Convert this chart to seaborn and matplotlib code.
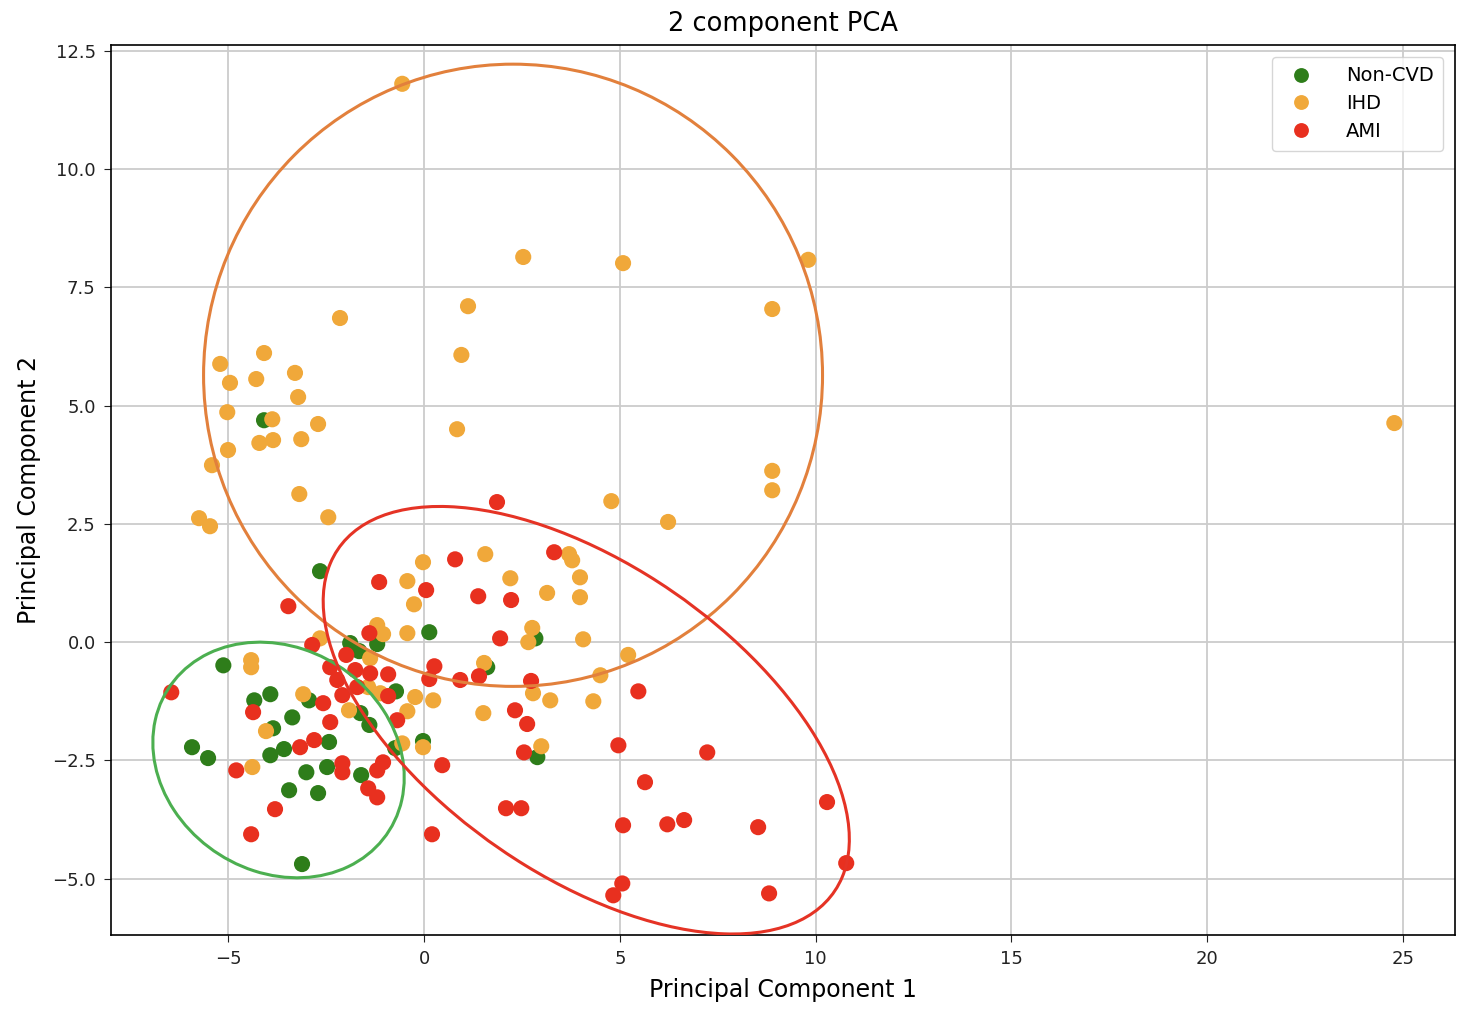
import pandas as pd
import matplotlib
matplotlib.use("Agg")
import matplotlib.pyplot as plt
import seaborn as sns
from matplotlib.patches import Ellipse

# values
noncvd_x = [-4.09, -2.66, 0.13, 2.84, -1.89, -1.66, -1.20, -0.72, -1.63, -1.40, -0.03, -0.74,
            -5.13, -4.34, -3.93, -2.94, -3.37, -3.86, -5.93, -5.52, -3.93, -3.58, -2.43, -3.01,
            -2.48, -1.61, -3.45, -2.71, -3.12, 2.89, 1.61]
noncvd_y = [4.69, 1.50, 0.21, 0.08, -0.02, -0.19, -0.04, -1.04, -1.50, -1.75, -2.09, -2.24,
            -0.49, -1.23, -1.10, -1.23, -1.59, -1.82, -2.22, -2.45, -2.39, -2.26, -2.11, -2.75,
            -2.64, -2.81, -3.13, -3.19, -4.69, -2.43, -0.53]

ihd_x = [-0.56, 2.53, 5.08, 9.81, 8.89, 1.12, -2.15, 0.95, -5.21, -4.09, -4.96, -4.29, -3.30,
         -3.22, -5.03, -3.88, -2.71, -5.01, -4.21, -3.86, -3.14, 0.84, -5.42, -3.19, -5.75,
         -5.47, -2.45, 4.78, 6.23, 8.89, 8.89, 24.78,
         -0.03, 1.56, -0.43, -0.26, 2.20, 3.70, 3.78, 3.98, 3.14, 3.98, -1.20, -1.05, -0.43,
         2.76, 2.66, 4.06, -2.66, 5.21, 4.50, 1.53, 2.78, 3.22, 4.32, 1.51, 0.23, -0.23, -0.43,
         -3.09, -1.92, -1.38, -1.12, -1.43, -0.56, -0.03, 2.99, -4.42, -4.42, -4.04, -4.39]
ihd_y = [11.80, 8.14, 8.01, 8.08, 7.04, 7.10, 6.85, 6.07, 5.88, 6.11, 5.48, 5.56, 5.69,
         5.18, 4.86, 4.71, 4.61, 4.06, 4.21, 4.27, 4.29, 4.50, 3.74, 3.13, 2.62,
         2.45, 2.64, 2.98, 2.54, 3.62, 3.21, 4.63,
         1.69, 1.86, 1.29, 0.80, 1.35, 1.86, 1.73, 1.37, 1.04, 0.95, 0.36, 0.17, 0.19,
         0.30, 0.00, 0.06, 0.08, -0.27, -0.70, -0.44, -1.08, -1.23, -1.25, -1.50, -1.23, -1.16, -1.46,
         -1.10, -1.44, -0.34, -1.08, -0.95, -2.14, -2.22, -2.20, -0.38, -0.53, -1.88, -2.64]

ami_x = [-6.46, 1.86, 0.79, 3.32, -1.15, 0.05, 1.38, 2.22, -3.47, 1.94, -1.40, -2.86, 0.26,
         0.13, 0.92, 1.40, 2.73, 5.47, 2.32, 2.63, 4.96, 7.23, 2.55, 0.46, 5.64, 10.29, 2.09,
         2.48, 5.08, 6.21, 6.64, 8.53, 10.78, 0.20, -4.42, -3.81, -4.80, -4.37, 5.06, 4.83, 8.81,
         -1.99, -2.40, -1.76, -1.38, -0.92, -2.22, -1.71, -2.09, -0.92, -2.58, -2.40, -0.69,
         -3.17, -2.81, -2.09, -2.09, -1.05, -1.20, -1.43, -1.20]
ami_y = [-1.06, 2.96, 1.75, 1.90, 1.27, 1.10, 0.97, 0.89, 0.76, 0.08, 0.19, -0.06, -0.51,
         -0.78, -0.80, -0.72, -0.82, -1.04, -1.44, -1.73, -2.18, -2.33, -2.33, -2.60, -2.96, -3.38, -3.51,
         -3.51, -3.87, -3.85, -3.76, -3.91, -4.67, -4.06, -4.06, -3.53, -2.71, -1.48, -5.10, -5.35, -5.31,
         -0.27, -0.53, -0.59, -0.66, -0.68, -0.80, -0.95, -1.12, -1.14, -1.29, -1.69, -1.65,
         -2.22, -2.07, -2.56, -2.75, -2.54, -2.71, -3.09, -3.28]

targets = ["Non-CVD", "IHD", "AMI"]
colors = ["#2e7d1a", "#f0a83a", "#e8301f"]

# group ellipses: centre x, centre y, width, height, angle
ell_cx = [-3.72, 2.27, 4.14]
ell_cy = [-2.49, 5.64, -1.65]
ell_w = [6.52, 15.81, 14.66]
ell_h = [4.85, 13.15, 6.88]
ell_ang = [-15, 0, -26.9]
ell_colors = ["#4caf50", "#e2803c", "#e53325"]

df = pd.concat([
    pd.DataFrame({"PC1": noncvd_x, "PC2": noncvd_y, "target": "Non-CVD"}),
    pd.DataFrame({"PC1": ihd_x, "PC2": ihd_y, "target": "IHD"}),
    pd.DataFrame({"PC1": ami_x, "PC2": ami_y, "target": "AMI"}),
], ignore_index=True)

fig = plt.figure(figsize=(14.66, 10.09), dpi=100)
ax = fig.add_axes([0.0757, 0.0733, 0.9168, 0.8821])

sns.scatterplot(data=df, x="PC1", y="PC2", hue="target", hue_order=targets,
                palette=colors, s=135, linewidth=0, ax=ax, zorder=3)

for i in range(3):
    e = Ellipse((ell_cx[i], ell_cy[i]), ell_w[i], ell_h[i], angle=ell_ang[i],
                fill=False, edgecolor=ell_colors[i], lw=2.2, zorder=4)
    ax.add_patch(e)

ax.set_xlim(-8.0, 26.33)
ax.set_ylim(-6.19, 12.62)
ax.set_xticks([-5, 0, 5, 10, 15, 20, 25])
ax.set_yticks([-5.0, -2.5, 0.0, 2.5, 5.0, 7.5, 10.0, 12.5])
ax.grid(True, color="#cccccc", lw=1.3)
ax.set_axisbelow(True)
ax.tick_params(labelsize=13, length=5, pad=6, colors="#222222", labelcolor="#222222")
for sp in ax.spines.values():
    sp.set_linewidth(1.2)

ax.set_title("2 component PCA", fontsize=18.5, pad=10)
ax.set_xlabel("Principal Component 1", fontsize=17, labelpad=7)
ax.set_ylabel("Principal Component 2", fontsize=17, labelpad=8)
ax.legend(loc="upper right", fontsize=14, markerscale=0.92, borderpad=0.5,
          labelspacing=0.45, handletextpad=1.3, borderaxespad=0.6)

fig.savefig("out.png", dpi=100)
